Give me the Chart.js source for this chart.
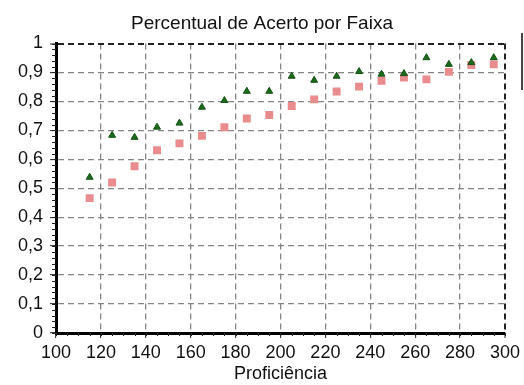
<!DOCTYPE html>
<html>
<head>
<meta charset="utf-8">
<script src="https://cdn.jsdelivr.net/npm/chart.js@4/dist/chart.umd.min.js"></script>
<style>
  html, body { margin: 0; padding: 0; background: #fff; }
  #wrap { position: relative; width: 524px; height: 385px; }
  #edge { position: absolute; left: 521px; top: 33px; width: 2px; height: 57px; background: #444; }
</style>
</head>
<body>
<div id="wrap">
  <canvas id="grafico" width="524" height="385"></canvas>
  <div id="edge"></div>
</div>
<script>
// faixas de proficiência (centro de cada faixa)
var faixas = [115, 125, 135, 145, 155, 165, 175, 185, 195, 205, 215, 225, 235, 245, 255, 265, 275, 285, 295];
// percentual observado (triângulos verdes)
var observado = [0.538, 0.683, 0.676, 0.711, 0.725, 0.780, 0.803, 0.835, 0.835, 0.887, 0.873, 0.887, 0.903, 0.894, 0.896, 0.951, 0.928, 0.934, 0.951];
// percentual esperado (quadrados rosa)
var esperado = [0.466, 0.520, 0.576, 0.631, 0.655, 0.681, 0.711, 0.741, 0.753, 0.784, 0.807, 0.834, 0.851, 0.871, 0.882, 0.876, 0.902, 0.926, 0.928];
var xTickLabels = ['100', '120', '140', '160', '180', '200', '220', '240', '260', '280', '300'];
var yTickLabels = ['0', '0,1', '0,2', '0,3', '0,4', '0,5', '0,6', '0,7', '0,8', '0,9', '1'];

function pontos(valores) {
  return faixas.map(function (f, i) { return { x: f, y: valores[i] }; });
}

var FONTE = "'Liberation Sans', Arial, sans-serif";

// marcas menores nos eixos
var marcasMenores = {
  id: 'marcasMenores',
  afterDraw: function (chart) {
    var c = chart.ctx, a = chart.chartArea, sx = chart.scales.x, sy = chart.scales.y;
    c.save();
    c.strokeStyle = '#222';
    c.lineWidth = 1;
    c.beginPath();
    for (var k = 0; k <= 50; k++) {
      var py = Math.round(sy.getPixelForValue(k / 50)) + 0.5;
      c.moveTo(a.left - 4, py); c.lineTo(a.left, py);
    }
    for (var v = 100; v <= 300; v += 5) {
      var px = Math.round(sx.getPixelForValue(v)) + 0.5;
      c.moveTo(px, a.bottom); c.lineTo(px, a.bottom + 3);
    }
    c.stroke();
    c.restore();
  }
};

new Chart(document.getElementById('grafico'), {
  type: 'scatter',
  data: {
    datasets: [{
      label: 'Observado',
      data: pontos(observado),
      pointStyle: 'triangle',
      pointRadius: 4,
      pointHoverRadius: 4,
      backgroundColor: '#1c6a1c',
      borderColor: '#145214',
      borderWidth: 1
    }, {
      label: 'Esperado',
      data: pontos(esperado),
      pointStyle: 'rect',
      pointRadius: 5.6,
      pointHoverRadius: 5.6,
      backgroundColor: '#ea8b8d',
      borderColor: '#ea8b8d',
      borderWidth: 0
    }]
  },
  options: {
    responsive: false,
    animation: false,
    layout: { padding: { left: 16, right: 16, top: 0, bottom: 0 } },
    plugins: {
      legend: { display: false },
      tooltip: { enabled: false },
      title: {
        display: true,
        text: 'Percentual de Acerto por Faixa',
        color: '#111',
        font: { family: FONTE, size: 19, weight: 'normal' },
        padding: { top: 12.6, bottom: 8.1 }
      }
    },
    scales: {
      x: {
        type: 'linear',
        min: 100,
        max: 300,
        ticks: {
          stepSize: 20,
          color: '#111',
          padding: 4,
          maxRotation: 0,
          font: { family: FONTE, size: 18 },
          callback: function (v, i) { return xTickLabels[i]; }
        },
        grid: {
          color: function (ctx) { return ctx.tick && ctx.tick.value === 300 ? '#222' : '#858585'; },
          lineWidth: function (ctx) { return ctx.tick && ctx.tick.value === 300 ? 2 : 1.3; },
          tickLength: 5,
          tickColor: '#222',
          tickWidth: 1
        },
        border: { display: true, color: '#000', width: 3, dash: [6, 4] },
        title: {
          display: true,
          text: 'Proficiência',
          color: '#111',
          font: { family: FONTE, size: 18 },
          padding: { top: 0, bottom: 0 }
        },
        afterFit: function (s) { s.height = 52; }
      },
      y: {
        min: 0,
        max: 1,
        ticks: {
          stepSize: 0.1,
          color: '#111',
          padding: 7,
          font: { family: FONTE, size: 18 },
          callback: function (v, i) { return yTickLabels[i]; }
        },
        grid: {
          color: function (ctx) { return ctx.tick && ctx.tick.value === 1 ? '#222' : '#858585'; },
          lineWidth: function (ctx) { return ctx.tick && ctx.tick.value === 1 ? 2 : 1.3; },
          tickLength: 6,
          tickColor: '#222',
          tickWidth: 1
        },
        border: { display: true, color: '#000', width: 3, dash: [6, 4] },
        afterFit: function (s) { s.width = 40; }
      }
    }
  },
  plugins: [marcasMenores]
});
</script>
</body>
</html>
